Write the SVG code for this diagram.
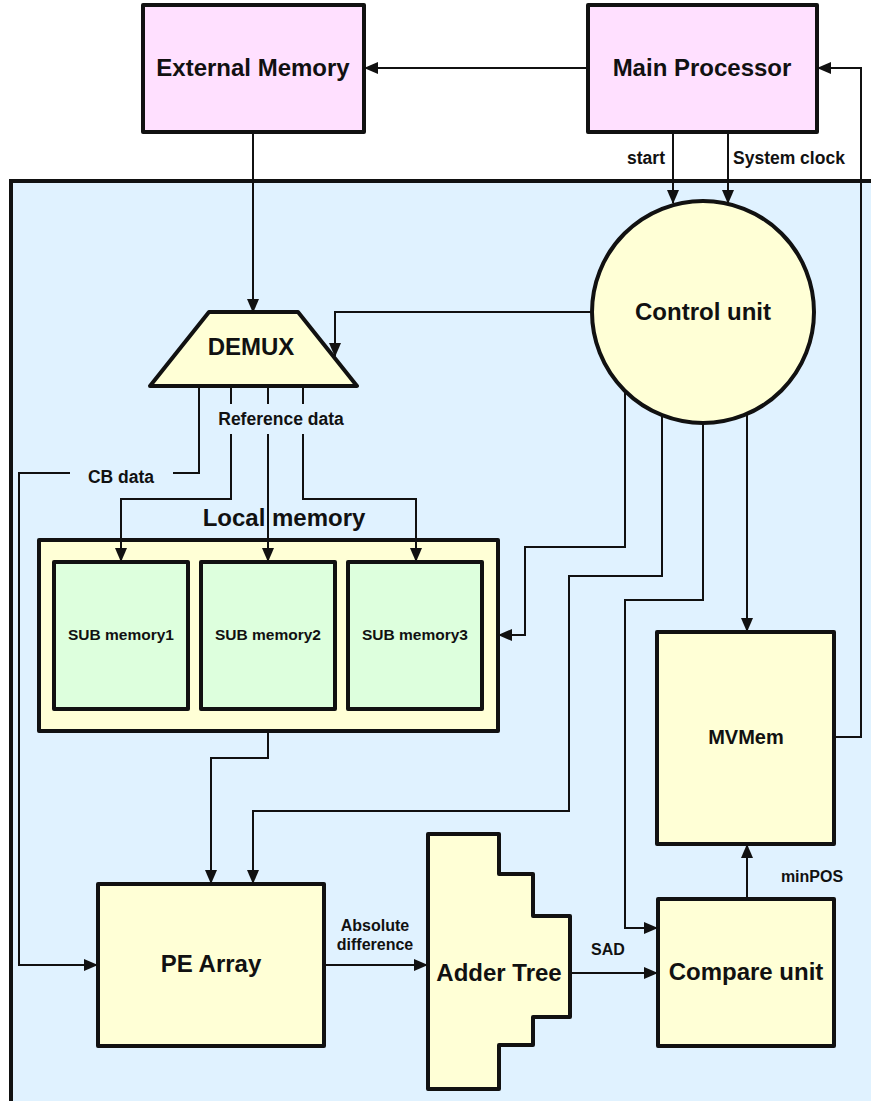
<svg xmlns="http://www.w3.org/2000/svg" width="871" height="1101" viewBox="0 0 871 1101">
<style>
text{font-family:"Liberation Sans",Arial,sans-serif;font-weight:bold;fill:#111;text-anchor:middle}
.big{font-size:24px}
.mid{font-size:20px}
.sub{font-size:15.5px}
.lbl{font-size:17.5px}
.sm{font-size:16px}
.box{stroke:#111;stroke-width:4;stroke-linejoin:round}
.pink{fill:#FFE0FF}
.yel{fill:#FFFFD6}
.grn{fill:#DDFFDD}
.ln{fill:none;stroke:#111;stroke-width:2}
.arr{marker-end:url(#ah)}
</style>
<defs>
<marker id="ah" markerUnits="userSpaceOnUse" markerWidth="14" markerHeight="12" viewBox="0 0 14 12" refX="13" refY="6" orient="auto">
<path d="M0,0 L14,6 L0,12 z" fill="#111"/>
</marker>
</defs>
<rect width="871" height="1101" fill="#fff"/>
<g id="frame"><rect x="11" y="181" width="890" height="950" fill="#E0F2FF" stroke="#111" stroke-width="4"/></g>

<g id="external-memory"><rect class="box pink" x="143" y="5" width="221" height="127"/><text class="big" x="253" y="76">External Memory</text></g>
<g id="main-processor"><rect class="box pink" x="588" y="5" width="229" height="127"/><text class="big" x="702" y="76">Main Processor</text></g>
<g id="control-unit"><circle class="box yel" cx="703" cy="312" r="111" stroke-width="3.5"/><text class="big" x="703" y="320">Control unit</text></g>
<g id="demux"><polygon class="box yel" points="209,312 298,312 357,386 150,386"/><text class="big" x="251" y="355">DEMUX</text></g>
<g id="local-memory"><text class="big" x="284" y="526">Local memory</text><rect class="box yel" x="39" y="540" width="459" height="191"/></g>
<g id="sub-memory1"><rect class="box grn" x="54" y="562" width="134" height="147"/><text class="sub" x="121" y="640">SUB memory1</text></g>
<g id="sub-memory2"><rect class="box grn" x="201" y="562" width="134" height="147"/><text class="sub" x="268" y="640">SUB memory2</text></g>
<g id="sub-memory3"><rect class="box grn" x="348" y="562" width="134" height="147"/><text class="sub" x="415" y="640">SUB memory3</text></g>
<g id="mvmem"><rect class="box yel" x="657" y="632" width="177" height="212"/><text class="mid" x="746" y="744">MVMem</text></g>
<g id="pe-array"><rect class="box yel" x="98" y="884" width="226" height="162"/><text class="big" x="211" y="972">PE Array</text></g>
<g id="adder-tree"><polygon class="box yel" points="428,834 499,834 499,874 533,874 533,916 570,916 570,1017 533,1017 533,1045 499,1045 499,1089 428,1089"/><text class="big" x="499" y="981">Adder Tree</text></g>
<g id="compare-unit"><rect class="box yel" x="658" y="899" width="176" height="147"/><text class="big" x="746" y="980">Compare unit</text></g>

<g id="connectors">
<path class="ln arr" d="M588,68 H365"/>
<path class="ln arr" d="M253,132 V312"/>
<path class="ln arr" d="M673,132 V203"/>
<path class="ln arr" d="M728,132 V203"/>
<path class="ln arr" d="M592,312 H335 V356"/>
<path class="ln" d="M199,387 V473 H173"/>
<path class="ln arr" d="M70,473 H19 V965 H97"/>
<path class="ln" d="M231,387 V404 M268,387 V404 M303,387 V404"/>
<path class="ln arr" d="M231,434 V499 H121 V561"/>
<path class="ln arr" d="M268,434 V561"/>
<path class="ln arr" d="M303,434 V499 H416 V561"/>
<path class="ln arr" d="M625,391 V547 H525 V635 H499"/>
<path class="ln arr" d="M662,415 V576 H569 V811 H253 V883"/>
<path class="ln arr" d="M703,423 V600 H625 V928 H657"/>
<path class="ln arr" d="M747,414 V631"/>
<path class="ln arr" d="M268,731 V758 H211 V883"/>
<path class="ln arr" d="M324,965 H427"/>
<path class="ln arr" d="M570,973 H657"/>
<path class="ln arr" d="M747,899 V845"/>
<path class="ln arr" d="M834,737 H861 V68 H818"/>
<text class="lbl" x="665" y="164" style="text-anchor:end">start</text>
<text class="lbl" x="733" y="164" style="text-anchor:start">System clock</text>
<text class="lbl" x="281" y="425">Reference data</text>
<text class="lbl" x="121" y="483">CB data</text>
<text class="sm" x="375" y="931">Absolute</text>
<text class="sm" x="375" y="950">difference</text>
<text class="sm" x="608" y="955">SAD</text>
<text class="sm" x="812" y="882">minPOS</text>
</g>
</svg>
